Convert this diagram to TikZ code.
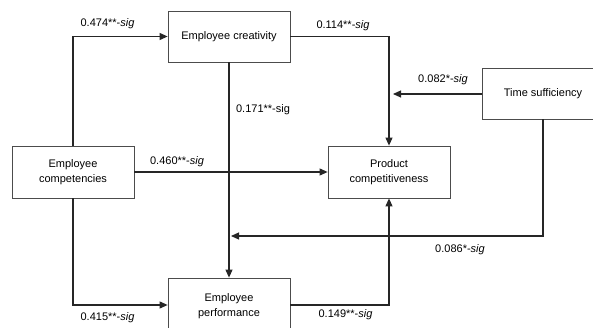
\documentclass[tikz,border=0pt]{standalone}
\usepackage{fontspec}
\setmainfont{Liberation Sans}
\usetikzlibrary{arrows.meta}
\begin{document}
\begin{tikzpicture}[x=1pt,y=-1pt,
  box/.style={draw=black!70,line width=0.8pt,minimum width=122pt,minimum height=51pt,inner sep=0pt,align=center,font=\fontsize{11}{15}\selectfont},
  conn/.style={draw=black!85,line width=1.1pt,-{Triangle[length=8pt,width=7pt]}},
  lab/.style={font=\fontsize{11}{13}\selectfont,inner sep=0pt}]
\clip (0,0) rectangle (593,328);
\fill[white] (0,0) rectangle (593,328);
\node[box] (cre) at (229,36.5) {Employee creativity};
\node[box,minimum height=52pt] (com) at (73,172) {Employee\\competencies};
\node[box,minimum height=52pt] (pro) at (389,172) {Product\\competitiveness};
\node[box] (tim) at (543,93.5) {Time sufficiency};
\node[box,minimum height=56pt] (per) at (229,306) {Employee\\performance};
\coordinate (t1) at (393,94);
\coordinate (t2) at (231,236);
\draw[conn] (com.north) |- (cre.west);
\draw[conn] (cre.east) -| (pro.north);
\draw[conn] (cre.south) -- (per.north);
\draw[conn] (tim.west |- t1) -- (t1);
\draw[conn] (com.east) -- (pro.west);
\draw[conn] (tim.south) |- (t2);
\draw[conn] (com.south) |- (per.west |- 0,305) ;
\draw[conn] (per.east |- 0,305) -| (pro.south);
\node[lab] (l1) at (107.5,24) {0.474**-\textit{sig}};
\node[lab] (l2) at (343,26) {0.114**-\textit{sig}};
\node[lab] (l3) at (263,110) {0.171**-sig};
\node[lab] (l4) at (443,80) {0.082*-\textit{sig}};
\node[lab] (l5) at (177,162) {0.460**-\textit{sig}};
\node[lab] (l6) at (460,250) {0.086*-\textit{sig}};
\node[lab] (l7) at (107.5,318) {0.415**-\textit{sig}};
\node[lab] (l8) at (345.5,315) {0.149**-\textit{sig}};
\end{tikzpicture}
\end{document}
